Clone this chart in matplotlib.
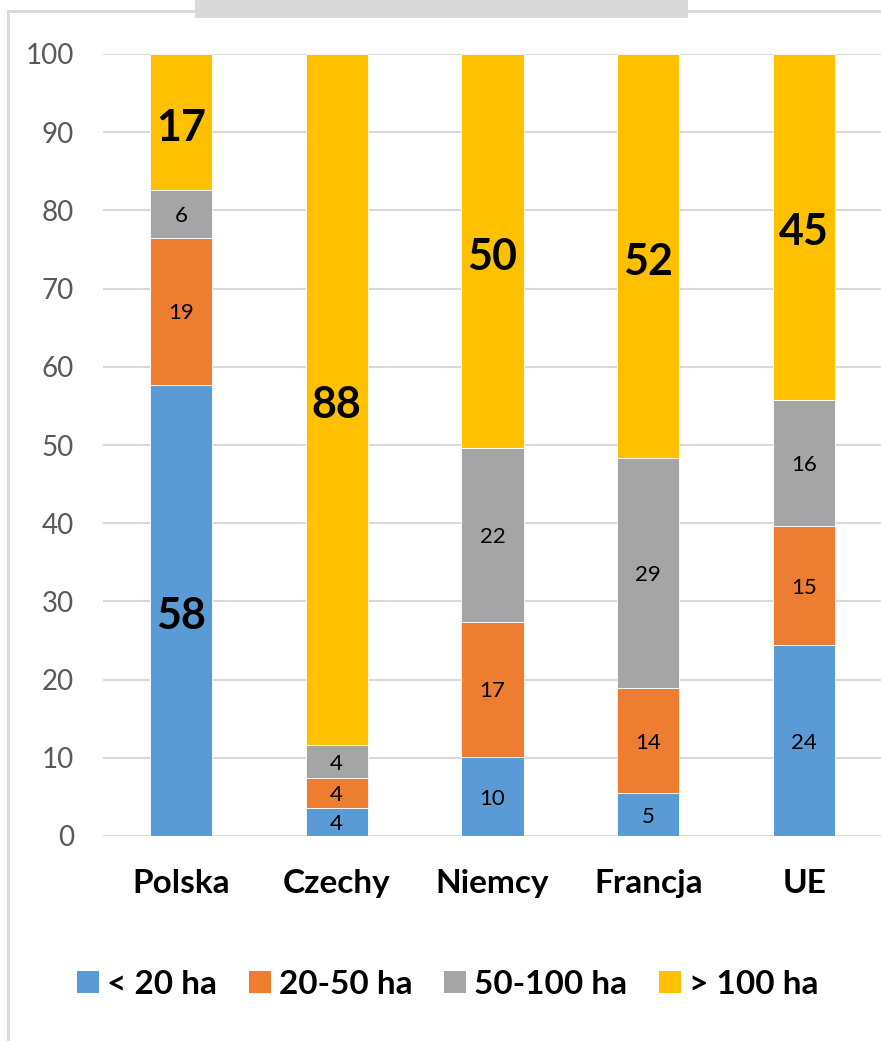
import matplotlib.pyplot as plt
from matplotlib.patches import Patch, Rectangle
from matplotlib.lines import Line2D

plt.rcParams['font.family'] = ['Lato', 'DejaVu Sans']

# dane: udział gospodarstw wg powierzchni (%)
kraje = ['Polska', 'Czechy', 'Niemcy', 'Francja', 'UE']
klasy = ['< 20 ha', '20-50 ha', '50-100 ha', '> 100 ha']
do_20 = [57.7, 3.6, 10.1, 5.5, 24.4]
od_20_do_50 = [18.8, 3.8, 17.3, 13.4, 15.2]
od_50_do_100 = [6.1, 4.2, 22.2, 29.4, 16.2]
pow_100 = [17.4, 88.4, 50.4, 51.7, 44.2]
etykiety = [
    ['58', '4', '10', '5', '24'],
    ['19', '4', '17', '14', '15'],
    ['6', '4', '22', '29', '16'],
    ['17', '88', '50', '52', '45'],
]
# które etykiety są wyróżnione (duże, pogrubione)
duze = [
    [True, False, False, False, False],
    [False, False, False, False, False],
    [False, False, False, False, False],
    [True, True, True, True, True],
]
kolory = ['#5B9BD5', '#ED7D31', '#A5A5A5', '#FFC000']

W, H = 881, 1041
fig = plt.figure(figsize=(W / 100, H / 100), dpi=100)
ax = fig.add_axes([103 / W, 1 - 836 / H, (882 - 103) / W, (836 - 54) / H])

serie = [do_20, od_20_do_50, od_50_do_100, pow_100]
x = range(len(kraje))
dol = [0.0] * len(kraje)
for i, s in enumerate(serie):
    ax.bar(x, s, width=0.4, bottom=dol, color=kolory[i], edgecolor='white',
           linewidth=0.6, zorder=3)
    for j, v in enumerate(s):
        srodek = dol[j] + v / 2
        if duze[i][j]:
            ax.annotate(etykiety[i][j], (j, srodek), xytext=(0, -4),
                        textcoords='offset points', ha='center', va='center',
                        fontsize=31, fontweight='bold', color='black', zorder=4)
        else:
            ax.annotate(etykiety[i][j], (j, srodek), xytext=(0, -1.5),
                        textcoords='offset points', ha='center', va='center',
                        fontsize=16, color='black', zorder=4)
    dol = [d + v for d, v in zip(dol, s)]

ax.set_xlim(-0.5, 4.5)
ax.set_ylim(0, 100)
ax.set_yticks(range(0, 101, 10))
ax.yaxis.grid(True, color='#D9D9D9', linewidth=1.5, zorder=0)
ax.set_axisbelow(True)
for sp in ax.spines.values():
    sp.set_visible(False)
ax.tick_params(axis='y', length=0, pad=21, labelsize=20, labelcolor='#595959')
ax.tick_params(axis='x', length=0, pad=24)
ax.set_xticks(list(x))
ax.set_xticklabels(kraje, fontsize=24, fontweight='bold')

# legenda
uchwyty = [Patch(facecolor=k, edgecolor='none') for k in kolory]
fig.legend(uchwyty, klasy, loc='center', bbox_to_anchor=(448 / W, 1 - 984 / H),
           ncol=4, frameon=False, handlelength=0.65, handleheight=0.65,
           handletextpad=0.25, columnspacing=0.95,
           prop={'size': 24, 'weight': 'bold'})

# ramka wykresu i szare pole tytułu (ucięte u góry)
ramka = '#D9D9D9'
fig.add_artist(Line2D([8 / W, 8 / W], [0, 1 - 11 / H], color=ramka, lw=2,
                      transform=fig.transFigure))
fig.add_artist(Line2D([8 / W, 195 / W], [1 - 11 / H, 1 - 11 / H], color=ramka,
                      lw=2, transform=fig.transFigure))
fig.add_artist(Line2D([688 / W, 1], [1 - 11 / H, 1 - 11 / H], color=ramka,
                      lw=2, transform=fig.transFigure))
fig.add_artist(Rectangle((195 / W, 1 - 18 / H), (688 - 195) / W, 18 / H,
                         facecolor='#D9D9D9', edgecolor='none',
                         transform=fig.transFigure))

fig.savefig('out.png', dpi=100)
